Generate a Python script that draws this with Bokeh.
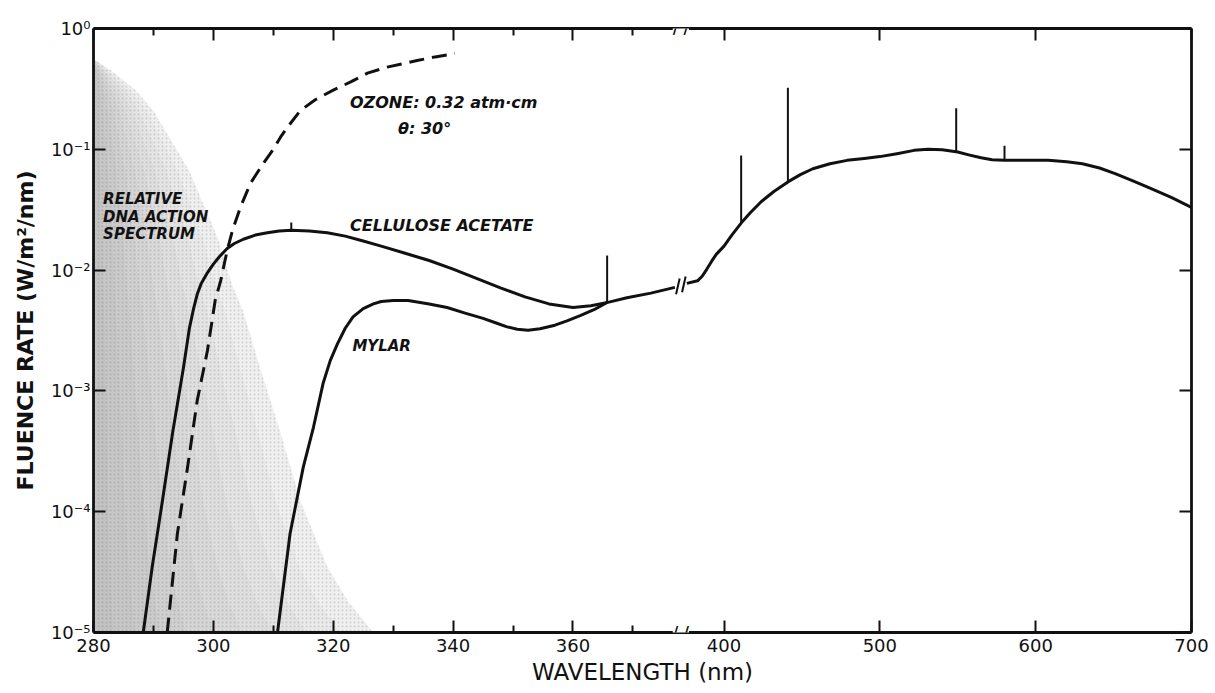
import numpy as np
from bokeh.plotting import figure
from bokeh.models import FixedTicker, CustomJSTickFormatter, LinearAxis, LogAxis, Range1d, Label
from bokeh.core.properties import value
from bokeh.embed import file_html
from bokeh.resources import INLINE

# ---------------- data (wavelength in nm, fluence rate in W/m^2/nm) ----------------
x_major_ticks = [280, 300, 320, 340, 360, 400, 500, 600, 700]
x_minor_ticks = [290, 310, 330, 350, 370]
y_ticks = [1e-5, 1e-4, 1e-3, 1e-2, 1e-1, 1e0]

dna_nm = [280, 283, 287, 290, 293, 296, 298.3, 300.7, 303, 305, 307.8, 311.2, 314.5, 319, 322.5, 326.7]
dna_val = [0.562, 0.447, 0.309, 0.209, 0.117, 6.6e-2, 3.55e-2, 1.86e-2, 7.9e-3, 4.5e-3,
           1.55e-3, 4.5e-4, 1.23e-4, 3.5e-5, 1.8e-5, 1.0e-5]

cell_nm = [288.3, 289.8, 291.5, 293.2, 295.0, 296.0, 296.7, 297.3, 298.0, 299.0, 300.0, 301.0,
           302.3, 303.5, 305, 307, 309, 311, 313, 316, 319, 322, 325, 328, 332, 336, 340, 344,
           348, 352, 356, 360, 363, 366, 369, 373, 377]
cell_val = [1.0e-5, 3.5e-5, 1.23e-4, 4.5e-4, 1.55e-3, 3.3e-3, 4.8e-3, 6.3e-3, 7.8e-3, 9.5e-3,
            1.12e-2, 1.29e-2, 1.51e-2, 1.66e-2, 1.8e-2, 1.95e-2, 2.04e-2, 2.11e-2, 2.14e-2,
            2.11e-2, 2.04e-2, 1.91e-2, 1.74e-2, 1.58e-2, 1.38e-2, 1.20e-2, 1.02e-2, 8.5e-3,
            7.1e-3, 6.0e-3, 5.25e-3, 4.9e-3, 5.07e-3, 5.43e-3, 5.9e-3, 6.45e-3, 7.2e-3]

vis_nm = [379, 383, 386, 389, 392, 395, 400, 405, 411, 417, 424, 432, 441, 449, 457, 468, 479,
          490, 500, 511, 522, 531, 540, 550, 557, 565, 572, 580, 595, 608, 620, 630, 641, 651,
          662, 673, 687, 700]
vis_val = [7.76e-3, 8.15e-3, 8.9e-3, 1.02e-2, 1.18e-2, 1.35e-2, 1.58e-2, 1.95e-2, 2.45e-2,
           3.0e-2, 3.7e-2, 4.47e-2, 5.37e-2, 6.17e-2, 6.9e-2, 7.6e-2, 8.1e-2, 8.4e-2, 8.7e-2,
           9.2e-2, 9.8e-2, 0.100, 9.9e-2, 9.5e-2, 9.0e-2, 8.5e-2, 8.2e-2, 8.1e-2, 8.1e-2,
           8.1e-2, 7.9e-2, 7.6e-2, 7.0e-2, 6.3e-2, 5.5e-2, 4.8e-2, 4.0e-2, 3.3e-2]

mylar_nm = [310.7, 312.8, 315.0, 316.7, 318.3, 319.5, 320.7, 322, 323.3, 325, 326.7, 328, 330,
            332.5, 336, 339, 342, 345, 347.3, 349, 350.7, 352.5, 354.5, 357, 359, 361.2, 363.5,
            365.7]
mylar_val = [1.0e-5, 6.6e-5, 2.34e-4, 5.0e-4, 1.15e-3, 1.78e-3, 2.45e-3, 3.3e-3, 4.1e-3, 4.8e-3,
             5.25e-3, 5.5e-3, 5.6e-3, 5.6e-3, 5.25e-3, 4.9e-3, 4.4e-3, 3.98e-3, 3.63e-3,
             3.39e-3, 3.24e-3, 3.18e-3, 3.27e-3, 3.5e-3, 3.8e-3, 4.2e-3, 4.7e-3, 5.4e-3]

ozone_nm = [292.3, 294.0, 295.7, 297.3, 299.0, 300.3, 301.2, 302.3, 303.2, 304.5, 306.2, 308.3,
            310.0, 311.2, 312.3, 314.5, 317, 320, 323, 325.7, 329, 334, 337, 340.3]
ozone_val = [1.0e-5, 6.6e-5, 2.34e-4, 8.3e-4, 2.14e-3, 5.6e-3, 8.1e-3, 1.45e-2, 2.14e-2, 3.3e-2,
             5.25e-2, 7.6e-2, 0.1, 0.126, 0.151, 0.209, 0.257, 0.309, 0.363, 0.427, 0.479,
             0.543, 0.582, 0.621]

line_nm = [313, 365.7, 411, 441, 549, 580]          # emission line spikes
line_top = [2.48e-2, 1.32e-2, 8.9e-2, 0.324, 0.219, 0.107]

# ---------------- broken x axis: 280-380 nm expanded, 380-700 nm compressed ----------------
BREAK = 380.0
K = 0.26


def u(x):
    x = np.asarray(x, float)
    return np.where(x <= BREAK, x, BREAK + (x - BREAK) * K)


FONT = "DejaVu Sans"
INK = "#111111"

p = figure(width=1215, height=693, y_axis_type="log",
           x_range=Range1d(280, float(u(700))), y_range=Range1d(1e-5, 1.0),
           output_backend="svg", toolbar_location=None,
           min_border_left=93, min_border_right=24, min_border_top=28, min_border_bottom=61)
p.xgrid.visible = False
p.ygrid.visible = False
p.outline_line_color = None
p.background_fill_color = "white"
p.border_fill_color = "white"

xticker = FixedTicker(ticks=[float(v) for v in u(x_major_ticks)],
                      minor_ticks=[float(v) for v in u(x_minor_ticks)])
xfmt = CustomJSTickFormatter(args=dict(b=BREAK, k=K), code="""
return tick <= b + 1e-6 ? String(Math.round(tick)) : String(Math.round(b + (tick - b) / k));
""")
yticker = FixedTicker(ticks=y_ticks, minor_ticks=[])
yfmt = CustomJSTickFormatter(code="""
const e = Math.round(Math.log10(tick));
const sup = {"0":"\u2070","1":"\u00b9","2":"\u00b2","3":"\u00b3","4":"\u2074","5":"\u2075","-":"\u207b"};
let s = "";
for (const c of String(e)) s += sup[c];
return "10" + s;
""")


def style(ax):
    ax.axis_line_width = 2.8
    ax.axis_line_color = INK
    ax.major_tick_in = 12
    ax.major_tick_out = 0
    ax.minor_tick_in = 7
    ax.minor_tick_out = 0
    ax.major_tick_line_width = 2
    ax.minor_tick_line_width = 2
    ax.major_tick_line_color = INK
    ax.minor_tick_line_color = INK
    ax.major_label_text_font = FONT
    ax.major_label_text_color = INK


xa = p.xaxis[0]
xa.ticker = xticker
xa.formatter = xfmt
style(xa)
xa.major_label_text_font_size = "18px"
xa.major_label_standoff = 6
xa.axis_label = "WAVELENGTH (nm)"
xa.axis_label_text_font = FONT
xa.axis_label_text_font_size = "23px"
xa.axis_label_text_font_style = "normal"
xa.axis_label_text_color = INK
xa.axis_label_standoff = 4

ya = p.yaxis[0]
ya.ticker = yticker
ya.formatter = yfmt
style(ya)
ya.major_label_text_font_size = "18px"
ya.major_label_standoff = 3
ya.axis_label = "FLUENCE RATE (W/m\u00b2/nm)"
ya.axis_label_text_font = FONT
ya.axis_label_text_font_size = "22px"
ya.axis_label_text_font_style = "bold"
ya.axis_label_text_color = INK
ya.axis_label_standoff = 10

# mirrored tick-only axes on top and right (labels switched off)
top = LinearAxis(ticker=xticker, formatter=xfmt)
style(top)
top.major_label_text_font_size = "1px"
top.major_label_text_alpha = 0
top.major_label_text_color = None
top.major_label_standoff = 0
p.add_layout(top, "above")

right = LogAxis(ticker=yticker, formatter=yfmt)
style(right)
right.major_label_text_font_size = "1px"
right.major_label_text_alpha = 0
right.major_label_text_color = None
right.major_label_standoff = 0
p.add_layout(right, "right")

# ---------------- relative DNA action spectrum (shaded, darker toward the left) ----------------
dna_x = np.asarray(dna_nm, float)
factors = [1.0, 0.88, 0.76, 0.64, 0.53, 0.43, 0.33, 0.24, 0.15, 0.07]
for i, f in enumerate(factors):
    xs = 280 + (dna_x - 280) * f
    px = np.concatenate([[280.0], xs])
    py = np.concatenate([[1e-5], dna_val])
    kw = {}
    if i == 0:
        kw = dict(hatch_pattern=".", hatch_scale=4, hatch_color="#808080", hatch_alpha=0.3, hatch_weight=1)
    p.patch(u(px), py, fill_color="#707070", fill_alpha=0.10 if i == 0 else 0.038, line_color=None, **kw)

# ---------------- curves ----------------
p.line(u(ozone_nm), ozone_val, line_color=INK, line_width=3, line_dash="15 8")
p.line(u(cell_nm), cell_val, line_color=INK, line_width=3, line_join="round")
p.line(u(vis_nm), vis_val, line_color=INK, line_width=3, line_join="round")
p.line(u(mylar_nm), mylar_val, line_color=INK, line_width=3, line_join="round")

# emission spikes, rising from the curve
all_nm = np.concatenate([cell_nm, vis_nm])
all_lv = np.log10(np.concatenate([cell_val, vis_val]))
line_base = 10 ** np.interp(line_nm, all_nm, all_lv)
p.segment(x0=u(line_nm), y0=line_base, x1=u(line_nm), y1=line_top, line_color=INK, line_width=2)

# break marks on the curve (between the two curve pieces)
b0, b1 = cell_nm[-1], vis_nm[0]
lv0, lv1 = np.log10(cell_val[-1]), np.log10(vis_val[0])
for xm in (b0 + 0.5, b1 - 0.5):
    lvm = np.interp(xm, [b0, b1], [lv0, lv1])
    p.segment(x0=[float(u(xm)) - 0.3], y0=[10 ** (lvm - 0.065)], x1=[float(u(xm)) + 0.3],
              y1=[10 ** (lvm + 0.065)], line_color=INK, line_width=2)

# break marks on the x axes
for yb in (y_ticks[0], y_ticks[-1]):
    p.add_layout(Label(x=float(u(378)), y=yb, text="/ /", text_font=FONT, text_font_size="15px",
                       text_font_style="bold", text_color=INK, text_align="center",
                       text_baseline="middle", background_fill_color="white",
                       background_fill_alpha=1.0))

# ---------------- annotations ----------------
tf = dict(text_font=value(FONT), text_font_style="bold italic", text_color=INK,
          text_baseline="middle", text_align="left")
p.text(x=u([322.8]), y=[0.245], text=["OZONE: 0.32 atm\u00b7cm"], text_font_size="16px", **tf)
p.text(x=u([330.8]), y=[0.149], text=["\u03b8: 30\u00b0"], text_font_size="16px", **tf)
p.text(x=u([322.8]), y=[0.0235], text=["CELLULOSE ACETATE"], text_font_size="16px", **tf)
p.text(x=u([323.2]), y=[0.00235], text=["MYLAR"], text_font_size="15px", **tf)
p.text(x=u([281.6, 281.6, 281.6]), y=[0.039, 0.0275, 0.0199],
       text=["RELATIVE", "DNA ACTION", "SPECTRUM"], text_font_size="15px", **tf)

with open("out.html", "w", encoding="utf-8") as fh:
    fh.write(file_html(p, INLINE))
